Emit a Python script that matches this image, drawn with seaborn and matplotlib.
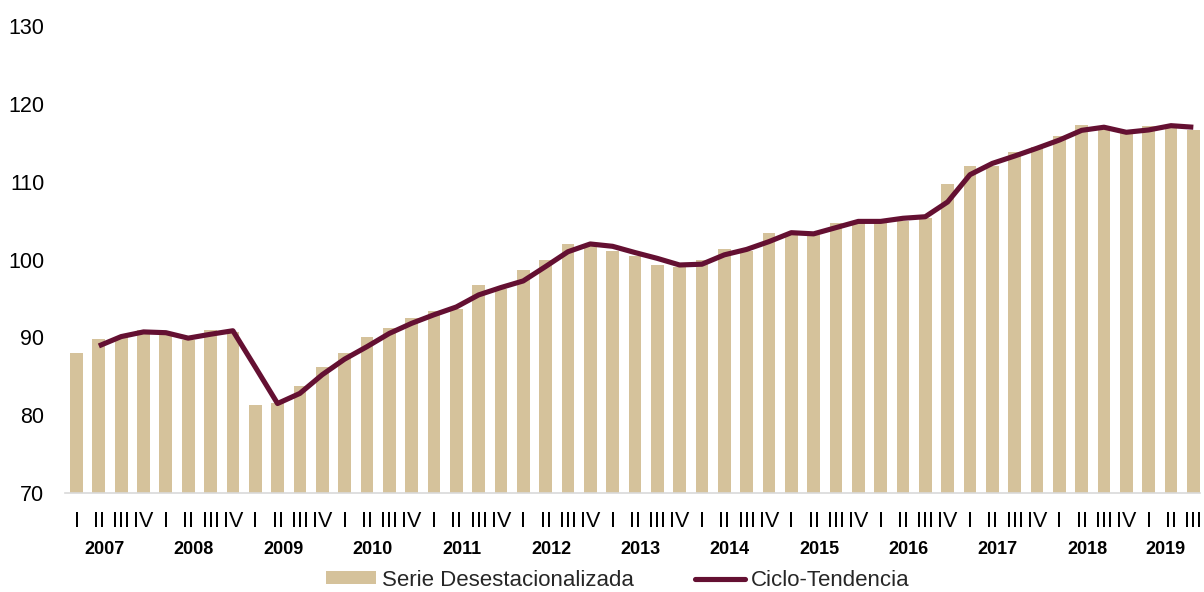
import numpy as np
import pandas as pd
import matplotlib
matplotlib.use("Agg")
import matplotlib.pyplot as plt
import seaborn as sns
from matplotlib.lines import Line2D
from matplotlib.patches import Patch

# ---------------- data ----------------
years = [2007, 2008, 2009, 2010, 2011, 2012, 2013, 2014, 2015, 2016, 2017, 2018, 2019]
quarter_names = ["I", "II", "III", "IV"]

serie_desest = [
    88.0, 89.75, 90.0, 91.0,      # 2007
    90.4, 89.7, 90.95, 90.7,      # 2008
    81.3, 81.6, 83.8, 86.2,       # 2009
    88.0, 90.05, 91.2, 92.5,      # 2010
    93.4, 93.7, 96.7, 96.2,       # 2011
    98.7, 100.0, 102.0, 101.7,    # 2012
    101.1, 100.45, 99.3, 99.0,    # 2013
    99.95, 101.35, 101.1, 103.45, # 2014
    103.3, 103.1, 104.75, 104.7,  # 2015
    104.8, 105.0, 105.3, 109.7,   # 2016
    112.0, 112.0, 113.8, 114.5,   # 2017
    115.9, 117.3, 116.85, 116.2,  # 2018
    117.15, 117.05, 116.7,        # 2019
]

# Ciclo-Tendencia starts at 2007 II
ciclo_tendencia = [
    88.9, 90.1, 90.7,             # 2007 II-IV
    90.6, 89.9, 90.4, 90.85,      # 2008
    86.2, 81.5, 82.8, 85.2,       # 2009
    87.2, 88.8, 90.5, 91.8,       # 2010
    92.9, 93.9, 95.45, 96.4,      # 2011
    97.25, 99.1, 101.0, 102.0,    # 2012
    101.7, 100.9, 100.15, 99.3,   # 2013
    99.4, 100.6, 101.3, 102.3,    # 2014
    103.45, 103.3, 104.1, 104.9,  # 2015
    104.9, 105.3, 105.5, 107.4,   # 2016
    110.9, 112.35, 113.3, 114.3,  # 2017
    115.35, 116.6, 117.0, 116.35, # 2018
    116.65, 117.2, 117.0,         # 2019
]

# ---------------- build frame ----------------
n = len(serie_desest)
period_year = [years[i // 4] for i in range(n)]
period_q = [quarter_names[i % 4] for i in range(n)]
pos = np.arange(n)
df_bar = pd.DataFrame({"pos": pos, "valor": serie_desest, "anio": period_year, "trim": period_q})
df_line = pd.DataFrame({"pos": pos[n - len(ciclo_tendencia):], "valor": ciclo_tendencia})

BAR_COLOR = "#D5C29B"
LINE_COLOR = "#641032"

sns.set_theme(style="white")
plt.rcParams["font.family"] = ["Liberation Sans", "DejaVu Sans"]

fig = plt.figure(figsize=(12.04, 5.92), dpi=100)
ax = fig.add_axes([0.054, 0.1672, 0.9427, 0.7888])

sns.barplot(data=df_bar, x="pos", y="valor", native_scale=True, color=BAR_COLOR,
            saturation=1, width=0.57, errorbar=None, ax=ax, linewidth=0)
sns.lineplot(data=df_line, x="pos", y="valor", color=LINE_COLOR, linewidth=3.7,
             ax=ax, solid_joinstyle="round", solid_capstyle="butt")

ax.set_ylim(70, 130)
ax.set_yticks([70, 80, 90, 100, 110, 120, 130])
ax.set_xlim(-0.515, 50.3)
ax.set_xticks(pos)
ax.set_xticklabels(period_q)
ax.set_xlabel("")
ax.set_ylabel("")

ax.tick_params(axis="y", length=0, pad=15, labelsize=15.5, labelcolor="black")
ax.tick_params(axis="x", length=0, pad=13, labelsize=15.5, labelcolor="black")

for s in ["top", "right", "left"]:
    ax.spines[s].set_visible(False)
ax.spines["bottom"].set_color("#d9d9d9")
ax.spines["bottom"].set_linewidth(1.2)
ax.grid(False)

# year labels
for y in years:
    p = df_bar.loc[df_bar["anio"] == y, "pos"].mean() - 0.25
    ax.annotate(str(y), xy=(p, 0), xycoords=("data", "axes fraction"),
                xytext=(0, -40.5), textcoords="offset points",
                ha="center", va="center", fontsize=13, fontweight="bold", color="black")

handles = [Patch(facecolor=BAR_COLOR, edgecolor="none"),
           Line2D([0], [0], color=LINE_COLOR, linewidth=3.7)]
fig.legend(handles, ["Serie Desestacionalizada", "Ciclo-Tendencia"],
           loc="center", bbox_to_anchor=(0.513, 0.02), ncol=2, frameon=False,
           fontsize=16, handlelength=2.25, handleheight=0.5, handletextpad=0.28,
           columnspacing=2.75)

fig.savefig("out.png", dpi=100)
